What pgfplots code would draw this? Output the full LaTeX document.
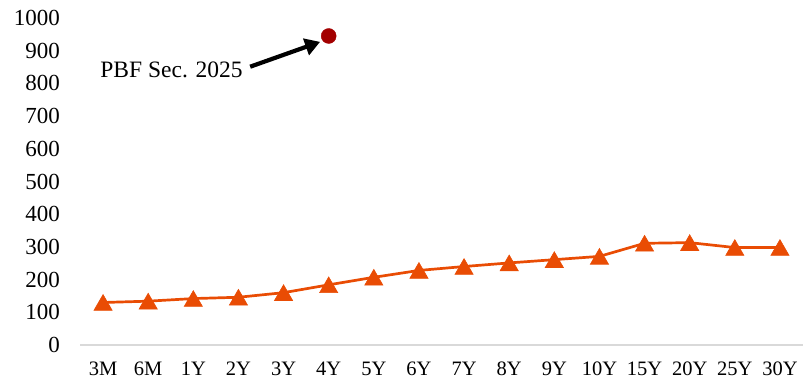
\documentclass[border=0pt]{standalone}
\usepackage{fontspec}
\setmainfont{Liberation Serif}
\usepackage{pgfplots}
\usepackage{pgfplotstable}
\pgfplotsset{compat=1.18}
\usetikzlibrary{arrows.meta}

\definecolor{curvecol}{RGB}{233,76,4}
\definecolor{dotcol}{RGB}{163,0,0}
\definecolor{basecol}{RGB}{217,217,217}

% Yield curve by tenor
\pgfplotstableread{
idx tenor value
0  3M  130
1  6M  134
2  1Y  142
3  2Y  146
4  3Y  160
5  4Y  184
6  5Y  207
7  6Y  228
8  7Y  240
9  8Y  251
10 9Y  261
11 10Y 271
12 15Y 311
13 20Y 313
14 25Y 298
15 30Y 298
}\curvedata

\begin{document}
\begin{tikzpicture}
\begin{axis}[
  scale only axis,
  width=722pt, height=327pt,
  xmin=-0.5, xmax=15.5,
  ymin=0, ymax=1000,
  axis x line*=bottom,
  axis y line*=left,
  x axis line style={draw=basecol, line width=1.3pt},
  y axis line style={draw=none},
  major tick length=0pt,
  xtick style={draw=none},
  ytick style={draw=none},
  xtick={0,...,15},
  xticklabels from table={\curvedata}{tenor},
  ytick={0,100,...,1000},
  /pgf/number format/assume math mode=true,
  /pgf/number format/1000 sep={},
  yticklabel style={font=\fontsize{23}{23}\selectfont, anchor=east, inner sep=0pt, xshift=-20.5pt},
  xticklabel style={font=\fontsize{20.5}{20.5}\selectfont, anchor=base, inner sep=0pt, yshift=-31pt},
  clip=false,
]
\addplot[curvecol, line width=2.7pt, mark=triangle*, mark size=10.5pt,
  mark options={solid, fill=curvecol, draw=curvecol, line width=0.6pt, yshift=-2.6pt}]
  table[x=idx, y=value] {\curvedata};
\addplot[only marks, mark=*, mark size=7.5pt, color=dotcol, fill=dotcol]
  coordinates {(5,945)};
\node[anchor=base east, inner sep=0pt, font=\fontsize{23.5}{23.5}\selectfont]
  at (axis cs:3.10,819) {PBF Sec. 2025};
\draw[line width=4.2pt, -{Triangle[length=15pt,width=17pt]}]
  (axis cs:3.26,851) -- (axis cs:4.81,927);
\end{axis}
\pgfresetboundingbox
\path ([shift={(-80.5pt,-34pt)}]current axis.south west)
  rectangle ([shift={(4.5pt,18pt)}]current axis.north east);
\end{tikzpicture}
\end{document}
